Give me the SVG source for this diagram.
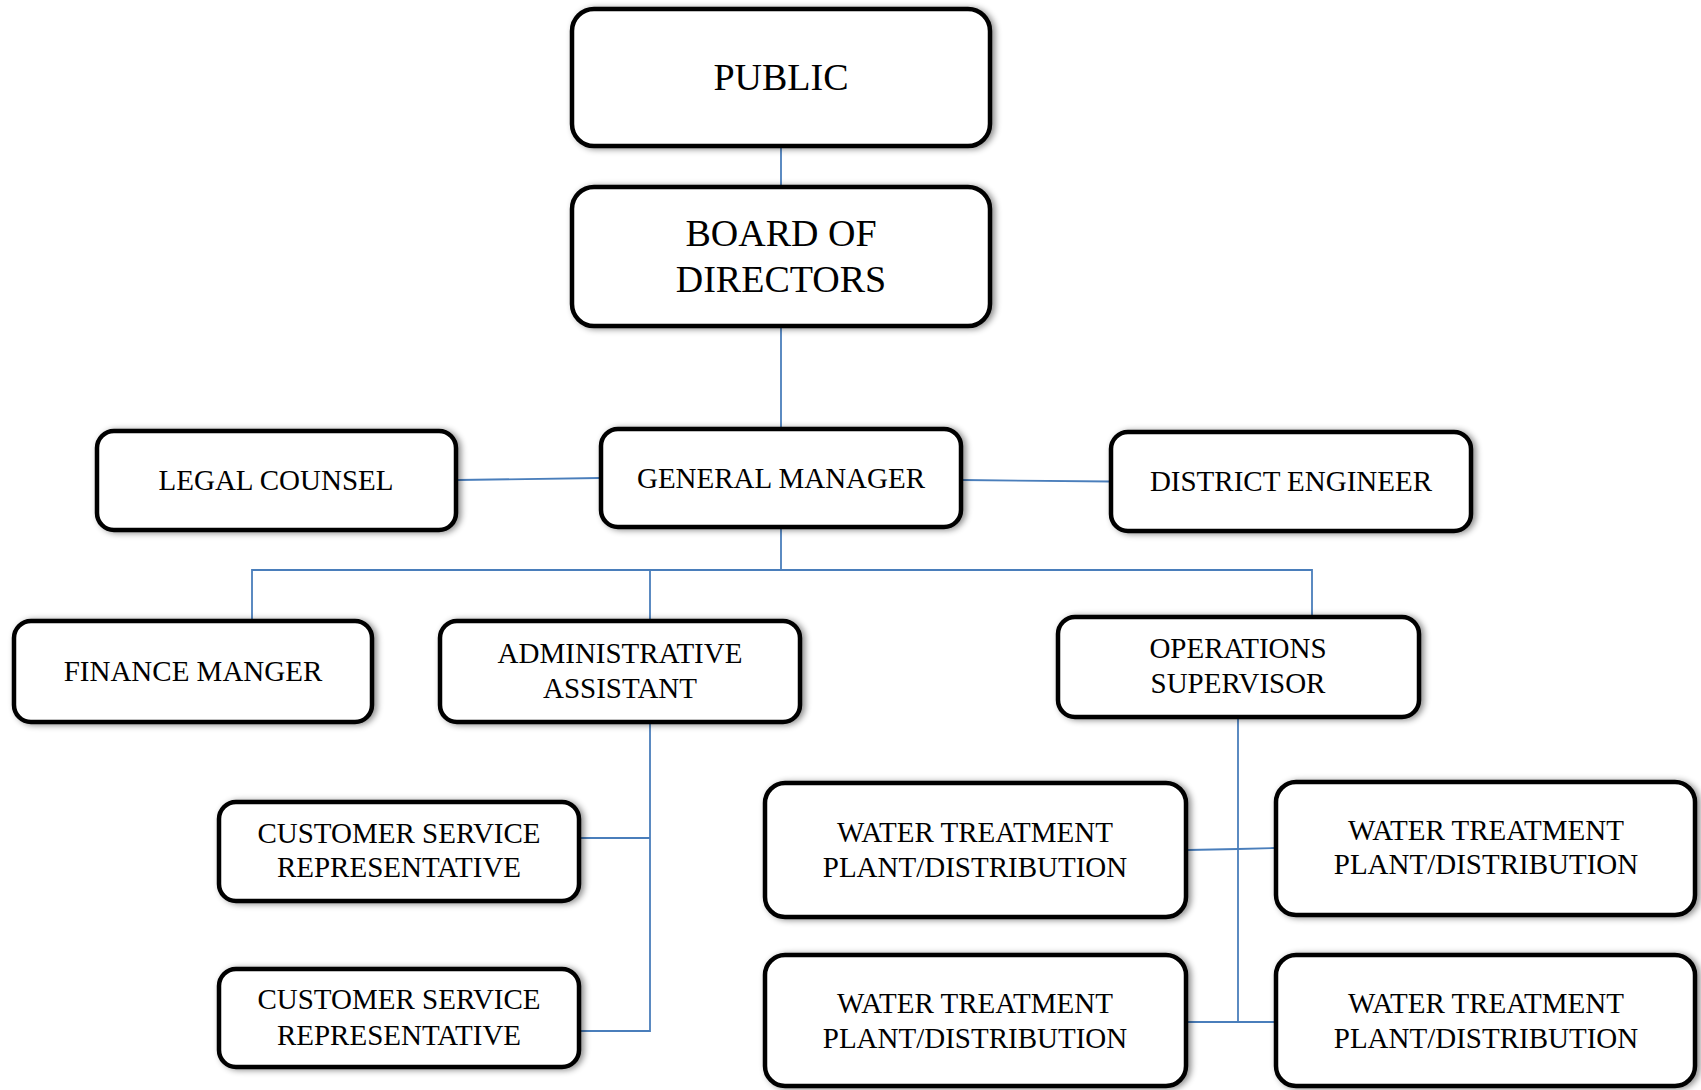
<svg xmlns="http://www.w3.org/2000/svg" width="1701" height="1090" viewBox="0 0 1701 1090">
<defs>
<filter id="sh" x="-10%" y="-20%" width="120%" height="140%">
<feDropShadow dx="3" dy="1" stdDeviation="3" flood-color="#000" flood-opacity="0.45"/>
</filter>
</defs>
<style>
.box{fill:#fff;stroke:#000;stroke-width:4.5;filter:url(#sh)}
.t{font-family:"Liberation Serif","DejaVu Serif",serif;font-size:29px;fill:#000;text-anchor:middle}
.big{font-size:38px}
.c{fill:none;stroke:#4a7ebb;stroke-width:1.8}
</style>
<rect width="1701" height="1090" fill="#fff"/>
<g id="connectors">
<line class="c" x1="781" y1="147" x2="781" y2="186"/>
<line class="c" x1="781" y1="327" x2="781" y2="428"/>
<line class="c" x1="458" y1="480" x2="600" y2="478"/>
<line class="c" x1="962" y1="480" x2="1110" y2="481.5"/>
<polyline class="c" points="781,529 781,570"/>
<polyline class="c" points="252,620 252,570 1312,570 1312,616"/>
<line class="c" x1="650" y1="570" x2="650" y2="620"/>
<polyline class="c" points="650,723 650,1031 580,1031"/>
<line class="c" x1="580" y1="838" x2="650" y2="838"/>
<line class="c" x1="1238" y1="718" x2="1238" y2="1022"/>
<polyline class="c" points="1188,850 1238,849 1275,848"/>
<line class="c" x1="1188" y1="1022" x2="1275" y2="1022"/>
</g>
<g id="public"><rect class="box" x="572" y="9" width="418" height="137" rx="22"/><text class="t big" x="781" y="90">PUBLIC</text></g>
<g id="board"><rect class="box" x="572" y="187" width="418" height="139" rx="22"/><text class="t big" x="781" y="246">BOARD OF</text><text class="t big" x="781" y="292">DIRECTORS</text></g>
<g id="general-manager"><rect class="box" x="601" y="429" width="360" height="98" rx="17"/><text class="t" x="781" y="488">GENERAL MANAGER</text></g>
<g id="legal-counsel"><rect class="box" x="97" y="431" width="359" height="99" rx="17"/><text class="t" x="276" y="490">LEGAL COUNSEL</text></g>
<g id="district-engineer"><rect class="box" x="1111" y="432" width="360" height="99" rx="17"/><text class="t" x="1291" y="491">DISTRICT ENGINEER</text></g>
<g id="finance-manager"><rect class="box" x="14" y="621" width="358" height="101" rx="17"/><text class="t" x="193" y="681">FINANCE MANGER</text></g>
<g id="admin-assistant"><rect class="box" x="440" y="621" width="360" height="101" rx="17"/><text class="t" x="620" y="663">ADMINISTRATIVE</text><text class="t" x="620" y="698">ASSISTANT</text></g>
<g id="operations-supervisor"><rect class="box" x="1058" y="617" width="361" height="100" rx="17"/><text class="t" x="1238" y="658">OPERATIONS</text><text class="t" x="1238" y="693">SUPERVISOR</text></g>
<g id="csr-1"><rect class="box" x="219" y="802" width="360" height="99" rx="17"/><text class="t" x="399" y="843">CUSTOMER SERVICE</text><text class="t" x="399" y="877">REPRESENTATIVE</text></g>
<g id="csr-2"><rect class="box" x="219" y="969" width="360" height="98" rx="17"/><text class="t" x="399" y="1009">CUSTOMER SERVICE</text><text class="t" x="399" y="1045">REPRESENTATIVE</text></g>
<g id="wtp-1"><rect class="box" x="765" y="783" width="421" height="134" rx="20"/><text class="t" x="975" y="842">WATER TREATMENT</text><text class="t" x="975" y="877">PLANT/DISTRIBUTION</text></g>
<g id="wtp-2"><rect class="box" x="1276" y="782" width="419" height="133" rx="20"/><text class="t" x="1486" y="840">WATER TREATMENT</text><text class="t" x="1486" y="874">PLANT/DISTRIBUTION</text></g>
<g id="wtp-3"><rect class="box" x="765" y="955" width="421" height="131" rx="20"/><text class="t" x="975" y="1013">WATER TREATMENT</text><text class="t" x="975" y="1048">PLANT/DISTRIBUTION</text></g>
<g id="wtp-4"><rect class="box" x="1276" y="955" width="419" height="131" rx="20"/><text class="t" x="1486" y="1013">WATER TREATMENT</text><text class="t" x="1486" y="1048">PLANT/DISTRIBUTION</text></g>
</svg>
